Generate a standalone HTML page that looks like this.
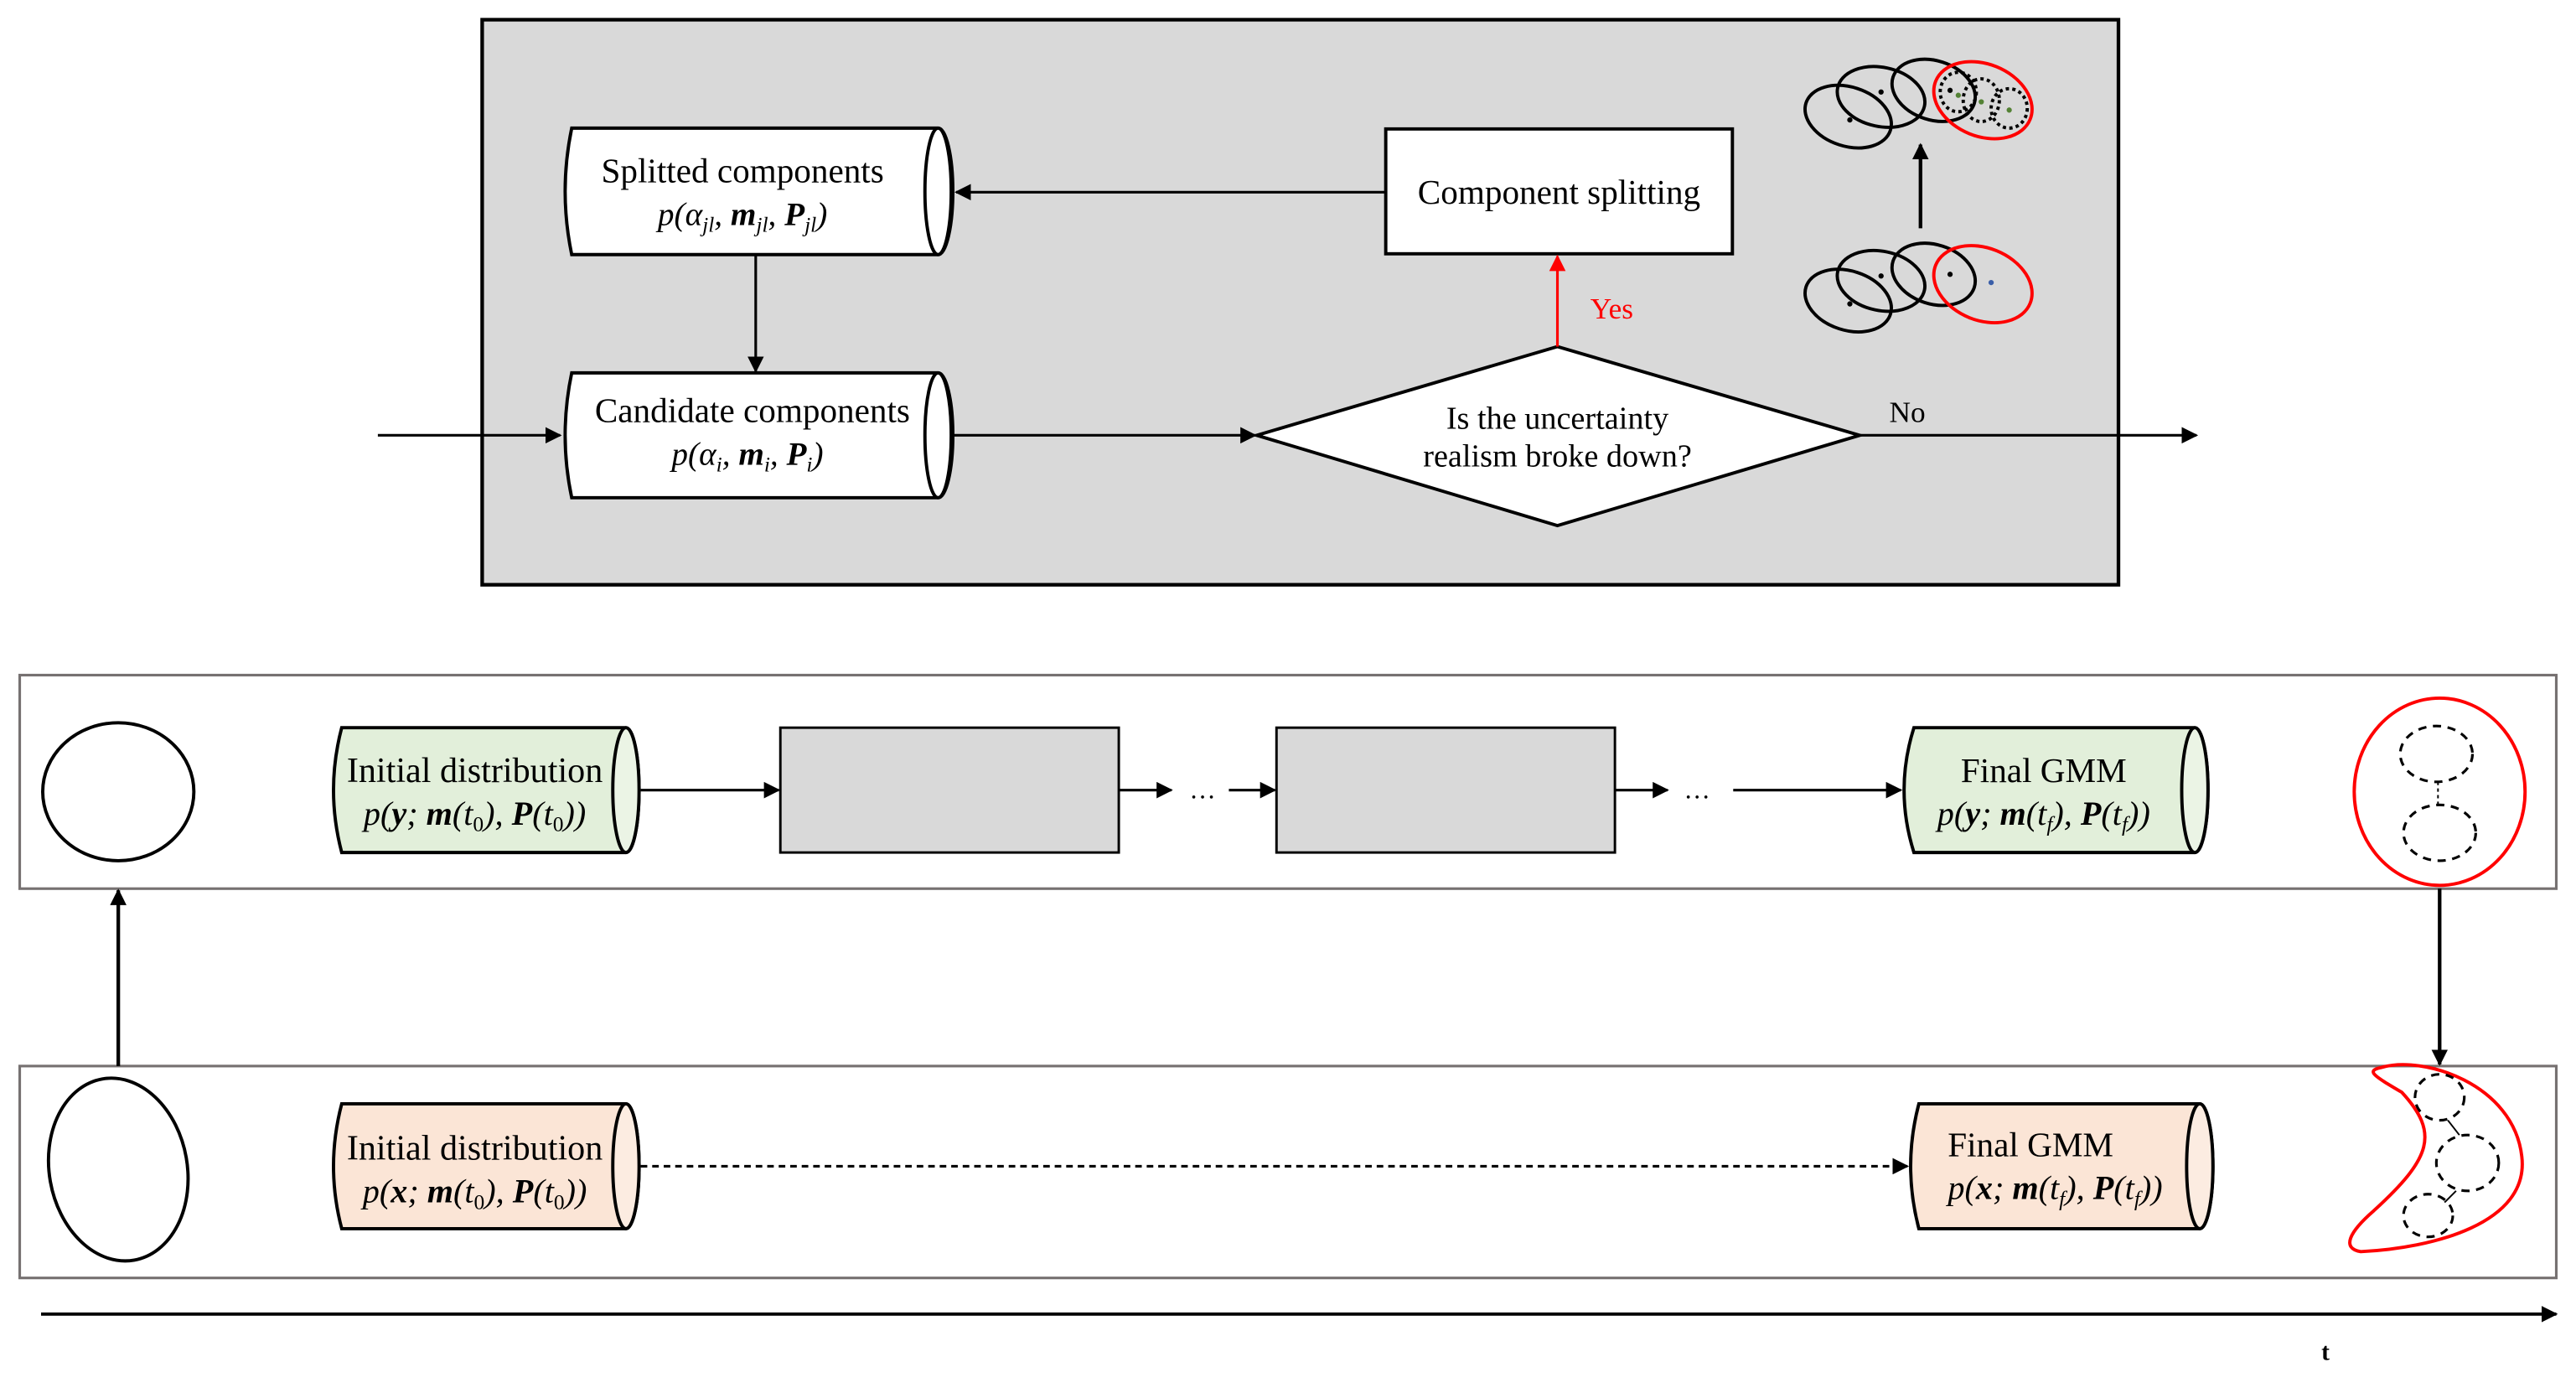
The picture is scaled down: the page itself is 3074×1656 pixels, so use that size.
<!DOCTYPE html>
<html><head><meta charset="utf-8"><style>
html,body{margin:0;padding:0;background:#fff;width:3074px;height:1656px;overflow:hidden}
svg{display:block}
text{font-family:"Liberation Serif",serif;fill:#000}
</style></head><body>
<svg width="3074" height="1656" viewBox="0 0 1568 845" preserveAspectRatio="none" xmlns="http://www.w3.org/2000/svg">
<defs>
<marker id="a" markerWidth="10" markerHeight="10" refX="9" refY="5" orient="auto" markerUnits="userSpaceOnUse"><path d="M0,0 L10,5 L0,10 z" fill="#000"/></marker>
<marker id="ar" markerWidth="10" markerHeight="10" refX="9" refY="5" orient="auto" markerUnits="userSpaceOnUse"><path d="M0,0 L10,5 L0,10 z" fill="#f00"/></marker>
</defs>
<rect x="293.5" y="12" width="996" height="344" fill="#d9d9d9" stroke="#000" stroke-width="2.2"/>
<g stroke="#000" stroke-width="2" fill="#fff">
<path d="M348,78 L571,78 A9,38.5 0 0 1 571,155 L348,155 Q340,116.5 348,78 z"/>
<ellipse cx="571" cy="116.5" rx="8" ry="38.5"/>
<path d="M348,227 L571,227 A9,38 0 0 1 571,303 L348,303 Q340,265 348,227 z"/>
<ellipse cx="571" cy="265" rx="8" ry="38"/>
<rect x="843.5" y="78.5" width="211" height="76"/>
<polygon points="765,265 948,211 1132,265 948,320"/>
</g>
<text x="452" y="111" font-size="21" text-anchor="middle">Splitted components</text>
<text x="452" y="137" font-size="20" text-anchor="middle" font-style="italic">p(α<tspan font-size="13" dy="4">jl</tspan><tspan dy="-4">, </tspan><tspan font-weight="bold">m</tspan><tspan font-size="13" dy="4">jl</tspan><tspan dy="-4">, </tspan><tspan font-weight="bold">P</tspan><tspan font-size="13" dy="4">jl</tspan><tspan dy="-4">)</tspan></text>
<text x="458" y="257" font-size="21" text-anchor="middle">Candidate components</text>
<text x="455" y="283" font-size="20" text-anchor="middle" font-style="italic">p(α<tspan font-size="13" dy="4">i</tspan><tspan dy="-4">, </tspan><tspan font-weight="bold">m</tspan><tspan font-size="13" dy="4">i</tspan><tspan dy="-4">, </tspan><tspan font-weight="bold">P</tspan><tspan font-size="13" dy="4">i</tspan><tspan dy="-4">)</tspan></text>
<text x="949" y="124" font-size="21" text-anchor="middle">Component splitting</text>
<text x="948" y="261" font-size="19.5" text-anchor="middle">Is the uncertainty</text>
<text x="948" y="284" font-size="19.5" text-anchor="middle">realism broke down?</text>
<text x="968" y="194" font-size="18" style="fill:#f00">Yes</text>
<text x="1150" y="257" font-size="18">No</text>
<g stroke="#000" stroke-width="1.6" fill="none">
<line x1="843" y1="117" x2="582" y2="117" marker-end="url(#a)"/>
<line x1="460" y1="155" x2="460" y2="226" marker-end="url(#a)"/>
<line x1="230" y1="265" x2="341" y2="265" marker-end="url(#a)"/>
<line x1="580" y1="265" x2="764" y2="265" marker-end="url(#a)"/>
<line x1="1132" y1="265" x2="1337" y2="265" marker-end="url(#a)"/>
<line x1="1169" y1="139" x2="1169" y2="88" stroke-width="2.2" marker-end="url(#a)"/>
</g>
<line x1="948" y1="211" x2="948" y2="156" stroke="#f00" stroke-width="1.6" marker-end="url(#ar)"/>
<g fill="none" stroke="#000" stroke-width="2">
<ellipse cx="1125" cy="183" rx="27" ry="18" transform="rotate(18 1125 183)"/>
<ellipse cx="1145" cy="171" rx="27" ry="18" transform="rotate(12 1145 171)"/>
<ellipse cx="1177" cy="167" rx="26" ry="18" transform="rotate(18 1177 167)"/>
<ellipse cx="1125" cy="71" rx="27" ry="18" transform="rotate(18 1125 71)"/>
<ellipse cx="1145" cy="59" rx="27" ry="18" transform="rotate(12 1145 59)"/>
<ellipse cx="1177" cy="55" rx="26" ry="18" transform="rotate(18 1177 55)"/>
<g stroke-dasharray="2,2">
<ellipse cx="1192" cy="56" rx="11" ry="12"/>
<ellipse cx="1206" cy="61" rx="11" ry="13"/>
<ellipse cx="1223" cy="66" rx="11" ry="12"/>
</g>
</g>
<ellipse cx="1207" cy="173" rx="31" ry="22" transform="rotate(22 1207 173)" fill="none" stroke="#f00" stroke-width="2"/>
<ellipse cx="1207" cy="61" rx="31" ry="22" transform="rotate(22 1207 61)" fill="none" stroke="#f00" stroke-width="2"/>
<g fill="#000"><circle cx="1126" cy="185" r="1.6"/><circle cx="1145" cy="168" r="1.6"/><circle cx="1187" cy="167" r="1.6"/>
<circle cx="1126" cy="73" r="1.6"/><circle cx="1145" cy="56" r="1.6"/><circle cx="1187" cy="55" r="1.6"/></g>
<circle cx="1212" cy="172" r="1.6" fill="#3a5ea8"/>
<g fill="#548235"><circle cx="1192" cy="58" r="1.6"/><circle cx="1206" cy="62" r="1.6"/><circle cx="1223" cy="67" r="1.6"/></g>

<rect x="12" y="411" width="1544" height="130" fill="#fff" stroke="#767171" stroke-width="1.6"/>
<rect x="12" y="649" width="1544" height="129" fill="#fff" stroke="#767171" stroke-width="1.6"/>
<ellipse cx="72" cy="482" rx="46" ry="42" fill="none" stroke="#000" stroke-width="2"/>
<ellipse cx="72" cy="712" rx="42" ry="56" transform="rotate(-10 72 712)" fill="none" stroke="#000" stroke-width="2"/>
<g stroke="#000" stroke-width="2">
<path d="M208,443 L381,443 A8,38 0 0 1 381,519 L208,519 Q198,481 208,443 z" fill="#e2efda"/>
<ellipse cx="381" cy="481" rx="8" ry="38" fill="#ebf4e5"/>
<path d="M1165,443 L1336,443 A8,38 0 0 1 1336,519 L1165,519 Q1153,481 1165,443 z" fill="#e2efda"/>
<ellipse cx="1336" cy="481" rx="8" ry="38" fill="#ebf4e5"/>
<path d="M208,672 L381,672 A8,38 0 0 1 381,748 L208,748 Q198,710 208,672 z" fill="#fbe5d6"/>
<ellipse cx="381" cy="710" rx="8" ry="38" fill="#fcece1"/>
<path d="M1168,672 L1339,672 A8,38 0 0 1 1339,748 L1168,748 Q1158,710 1168,672 z" fill="#fbe5d6"/>
<ellipse cx="1339" cy="710" rx="8" ry="38" fill="#fcece1"/>
</g>
<rect x="475" y="443" width="206" height="76" fill="#d9d9d9" stroke="#000" stroke-width="1.5"/>
<rect x="777" y="443" width="206" height="76" fill="#d9d9d9" stroke="#000" stroke-width="1.5"/>
<text x="289" y="476" font-size="21.5" text-anchor="middle">Initial distribution</text>
<text x="289" y="502" font-size="20.5" text-anchor="middle" font-style="italic">p(<tspan font-weight="bold">y</tspan>; <tspan font-weight="bold">m</tspan>(t<tspan font-size="13" dy="4" font-style="normal">0</tspan><tspan dy="-4">), </tspan><tspan font-weight="bold">P</tspan>(t<tspan font-size="13" dy="4" font-style="normal">0</tspan><tspan dy="-4">))</tspan></text>
<text x="1244" y="476" font-size="21" text-anchor="middle">Final GMM</text>
<text x="1244" y="502" font-size="20.5" text-anchor="middle" font-style="italic">p(<tspan font-weight="bold">y</tspan>; <tspan font-weight="bold">m</tspan>(t<tspan font-size="13" dy="4">f</tspan><tspan dy="-4">), </tspan><tspan font-weight="bold">P</tspan>(t<tspan font-size="13" dy="4">f</tspan><tspan dy="-4">))</tspan></text>
<text x="289" y="706" font-size="21.5" text-anchor="middle">Initial distribution</text>
<text x="289" y="732" font-size="20.5" text-anchor="middle" font-style="italic">p(<tspan font-weight="bold">x</tspan>; <tspan font-weight="bold">m</tspan>(t<tspan font-size="13" dy="4" font-style="normal">0</tspan><tspan dy="-4">), </tspan><tspan font-weight="bold">P</tspan>(t<tspan font-size="13" dy="4" font-style="normal">0</tspan><tspan dy="-4">))</tspan></text>
<text x="1236" y="704" font-size="21" text-anchor="middle">Final GMM</text>
<text x="1251" y="730" font-size="20.5" text-anchor="middle" font-style="italic">p(<tspan font-weight="bold">x</tspan>; <tspan font-weight="bold">m</tspan>(t<tspan font-size="13" dy="4">f</tspan><tspan dy="-4">), </tspan><tspan font-weight="bold">P</tspan>(t<tspan font-size="13" dy="4">f</tspan><tspan dy="-4">))</tspan></text>
<text x="732" y="486" font-size="16" text-anchor="middle">…</text>
<text x="1033" y="486" font-size="16" text-anchor="middle">…</text>
<g stroke="#000" stroke-width="1.6" fill="none">
<line x1="390" y1="481" x2="474" y2="481" marker-end="url(#a)"/>
<line x1="681" y1="481" x2="713" y2="481" marker-end="url(#a)"/>
<line x1="748" y1="481" x2="776" y2="481" marker-end="url(#a)"/>
<line x1="983" y1="481" x2="1015" y2="481" marker-end="url(#a)"/>
<line x1="1055" y1="481" x2="1157" y2="481" marker-end="url(#a)"/>
<line x1="390" y1="710" x2="1161" y2="710" stroke-dasharray="4,3" marker-end="url(#a)"/>
<line x1="72" y1="649" x2="72" y2="542" stroke-width="2.2" marker-end="url(#a)"/>
<line x1="1485" y1="541" x2="1485" y2="648" stroke-width="2.2" marker-end="url(#a)"/>
<line x1="25" y1="800" x2="1556" y2="800" stroke-width="2" marker-end="url(#a)"/>
</g>
<ellipse cx="1485" cy="482" rx="52" ry="57" fill="none" stroke="#f00" stroke-width="2"/>
<g fill="none" stroke="#000" stroke-width="1.6" stroke-dasharray="5,4">
<ellipse cx="1483" cy="459" rx="22" ry="17"/>
<ellipse cx="1485" cy="507" rx="22" ry="17"/>
</g>
<line x1="1484" y1="476" x2="1484" y2="490" stroke="#000" stroke-width="1" stroke-dasharray="2,2"/>
<path d="M1449,650 C1475,642 1530,660 1535,704 C1540,745 1480,760 1437,762 C1425,760 1430,750 1445,737 C1480,705 1485,690 1462,665 C1445,655 1440,652 1449,650 z" fill="none" stroke="#f00" stroke-width="2"/>
<g fill="none" stroke="#000" stroke-width="1.6" stroke-dasharray="5,4">
<ellipse cx="1485" cy="668" rx="15" ry="14"/>
<ellipse cx="1502" cy="708" rx="19" ry="17"/>
<ellipse cx="1478" cy="740" rx="15" ry="13"/>
</g>
<line x1="1490" y1="682" x2="1497" y2="691" stroke="#000" stroke-width="1"/>
<line x1="1495" y1="725" x2="1488" y2="732" stroke="#000" stroke-width="1"/>
<text x="1413" y="828" font-size="15" font-weight="bold">t</text>
</svg>
</body></html>
